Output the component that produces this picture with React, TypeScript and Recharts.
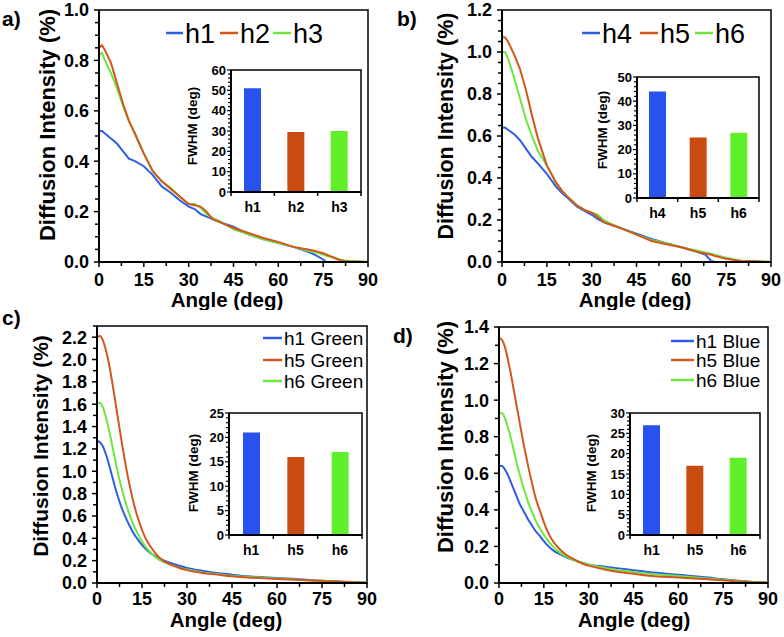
import React from 'react';
import { LineChart, Line, XAxis, YAxis, BarChart, Bar, Cell, ReferenceArea, Legend } from 'recharts';

const FONT = '"Liberation Sans", Arial, Helvetica, sans-serif';
const BLUE = '#2f5ce4';
const ORANGE = '#d4561e';
const GREEN = '#6ee641';
const BAR_COLORS = ['#2752ee', '#c94b0f', '#5ff02b'];

// ---------------- data ----------------
const X_MAJOR = [0, 15, 30, 45, 60, 75, 90];
const X_MINOR_STEP = 7.5;

// panel a
const A_ANGLES = [0, 1, 2, 4, 6, 8, 10, 12, 15, 18, 21, 24, 27, 30, 32, 34, 36, 38, 40, 45, 50, 55, 60, 65, 70, 72, 75, 76, 78, 80, 82, 84, 86, 90];
const A_H1 = [0.52, 0.52, 0.51, 0.49, 0.47, 0.44, 0.41, 0.40, 0.38, 0.345, 0.30, 0.275, 0.245, 0.22, 0.21, 0.19, 0.18, 0.17, 0.16, 0.14, 0.11, 0.09, 0.075, 0.06, 0.04, 0.03, 0.01, 0.0, 0.0, 0.0, 0.0, 0.0, 0.0, 0.0];
const A_H2 = [0.85, 0.86, 0.84, 0.79, 0.71, 0.63, 0.56, 0.51, 0.43, 0.36, 0.32, 0.29, 0.26, 0.23, 0.225, 0.22, 0.20, 0.17, 0.16, 0.135, 0.115, 0.095, 0.08, 0.06, 0.05, 0.045, 0.035, 0.03, 0.02, 0.01, 0.003, 0.002, 0.002, 0.0];
const A_H3 = [0.82, 0.83, 0.80, 0.75, 0.69, 0.62, 0.56, 0.51, 0.43, 0.36, 0.32, 0.295, 0.26, 0.23, 0.23, 0.215, 0.19, 0.175, 0.165, 0.13, 0.11, 0.09, 0.075, 0.06, 0.045, 0.04, 0.03, 0.025, 0.02, 0.012, 0.006, 0.004, 0.003, 0.0];
const A_Y_MAJOR = [0, 0.2, 0.4, 0.6, 0.8, 1.0];
const A_FWHM_CATS = ['h1', 'h2', 'h3'];
const A_FWHM = [51, 29.5, 30];
const A_FWHM_TICKS = [0, 10, 20, 30, 40, 50, 60];

// panel b
const B_ANGLES = [0, 1, 2, 4, 6, 8, 10, 12, 15, 18, 20, 22, 25, 28, 30, 32, 34, 36, 40, 45, 50, 55, 60, 65, 68, 70, 71, 75, 80, 85, 90];
const B_H4 = [0.64, 0.64, 0.63, 0.61, 0.58, 0.54, 0.50, 0.47, 0.42, 0.36, 0.33, 0.305, 0.265, 0.24, 0.225, 0.205, 0.19, 0.18, 0.16, 0.135, 0.11, 0.09, 0.07, 0.05, 0.035, 0.005, 0.0, 0.0, 0.0, 0.0, 0.0];
const B_H5 = [1.07, 1.07, 1.05, 0.99, 0.92, 0.82, 0.70, 0.59, 0.46, 0.38, 0.34, 0.31, 0.27, 0.245, 0.235, 0.215, 0.19, 0.18, 0.16, 0.13, 0.10, 0.085, 0.07, 0.05, 0.04, 0.035, 0.03, 0.015, 0.005, 0.003, 0.0];
const B_H6 = [1.0, 1.0, 0.97, 0.88, 0.78, 0.68, 0.60, 0.53, 0.46, 0.38, 0.34, 0.31, 0.27, 0.245, 0.235, 0.225, 0.20, 0.185, 0.16, 0.13, 0.105, 0.09, 0.07, 0.055, 0.045, 0.04, 0.035, 0.02, 0.005, 0.002, 0.0];
const B_Y_MAJOR = [0, 0.2, 0.4, 0.6, 0.8, 1.0, 1.2];
const B_FWHM_CATS = ['h4', 'h5', 'h6'];
const B_FWHM = [44, 25, 27];
const B_FWHM_TICKS = [0, 10, 20, 30, 40, 50];

// panel c
const C_ANGLES = [0, 1, 2, 3, 4, 5, 6, 7, 8, 9, 10, 11, 12, 14, 16, 18, 20, 22, 25, 28, 30, 35, 40, 45, 50, 60, 70, 75, 80, 85, 90];
const C_H1 = [1.27, 1.26, 1.22, 1.15, 1.06, 0.96, 0.86, 0.77, 0.69, 0.62, 0.56, 0.505, 0.455, 0.375, 0.31, 0.265, 0.23, 0.205, 0.175, 0.15, 0.135, 0.11, 0.09, 0.075, 0.06, 0.045, 0.03, 0.02, 0.015, 0.008, 0.003];
const C_H5 = [2.20, 2.21, 2.17, 2.08, 1.96, 1.81, 1.64, 1.47, 1.30, 1.14, 0.99, 0.86, 0.74, 0.55, 0.41, 0.32, 0.25, 0.20, 0.16, 0.13, 0.115, 0.09, 0.075, 0.06, 0.05, 0.035, 0.025, 0.02, 0.012, 0.006, 0.002];
const C_H6 = [1.61, 1.61, 1.57, 1.48, 1.37, 1.24, 1.11, 0.98, 0.87, 0.77, 0.68, 0.60, 0.53, 0.42, 0.33, 0.27, 0.22, 0.19, 0.16, 0.13, 0.12, 0.095, 0.08, 0.065, 0.055, 0.04, 0.025, 0.02, 0.012, 0.006, 0.002];
const C_Y_MAJOR = [0, 0.2, 0.4, 0.6, 0.8, 1.0, 1.2, 1.4, 1.6, 1.8, 2.0, 2.2];
const C_FWHM_CATS = ['h1', 'h5', 'h6'];
const C_FWHM = [21, 16, 17];
const C_FWHM_TICKS = [0, 5, 10, 15, 20, 25];

// panel d
const D_ANGLES = [0, 1, 2, 3, 4, 5, 6, 7, 8, 9, 10, 11, 12, 14, 16, 18, 20, 22, 25, 28, 30, 35, 40, 45, 50, 60, 70, 75, 80, 85, 90];
const D_H1 = [0.64, 0.64, 0.62, 0.59, 0.55, 0.51, 0.47, 0.43, 0.40, 0.37, 0.34, 0.315, 0.29, 0.25, 0.21, 0.18, 0.16, 0.145, 0.125, 0.11, 0.10, 0.09, 0.08, 0.07, 0.06, 0.045, 0.03, 0.02, 0.012, 0.006, 0.002];
const D_H5 = [1.34, 1.33, 1.29, 1.22, 1.14, 1.05, 0.96, 0.87, 0.78, 0.70, 0.62, 0.55, 0.48, 0.38, 0.29, 0.23, 0.19, 0.16, 0.13, 0.105, 0.095, 0.075, 0.06, 0.05, 0.04, 0.03, 0.02, 0.015, 0.008, 0.004, 0.002];
const D_H6 = [0.93, 0.93, 0.90, 0.85, 0.79, 0.72, 0.65, 0.59, 0.53, 0.48, 0.43, 0.39, 0.35, 0.29, 0.24, 0.20, 0.17, 0.15, 0.125, 0.11, 0.10, 0.085, 0.07, 0.06, 0.05, 0.038, 0.025, 0.018, 0.01, 0.005, 0.002];
const D_Y_MAJOR = [0, 0.2, 0.4, 0.6, 0.8, 1.0, 1.2, 1.4];
const D_FWHM_CATS = ['h1', 'h5', 'h6'];
const D_FWHM = [27, 17, 19];
const D_FWHM_TICKS = [0, 5, 10, 15, 20, 25, 30];

// ---------------- helpers ----------------
const minorTicks = (max: number, step: number) => {
  const out: number[] = [];
  const n = Math.round(max / step + 1e-9);
  for (let i = 0; i <= n; i++) out.push(Math.round(i * step * 10000) / 10000);
  return out;
};
const isMajor = (v: number, majors: number[]) => majors.some((m) => Math.abs(m - v) < 1e-6);
const zip = (xs: number[], ys: number[]) => xs.map((x, i) => ({ x, y: ys[i] }));

type Series = { name: string; color: string; angles: number[]; values: number[] };
type LegendItem = { label: string; color: string; lx1: number; lx2: number; tx: number; y: number };

type PanelProps = {
  left: number; top: number; width: number; height: number;
  mTop: number; mRight: number; yWidth: number; xHeight: number;
  yMax: number; yMajor: number[]; yMinor: number; yDecimals: number;
  series: Series[]; curve: 'linear' | 'monotone';
  legend: LegendItem[]; legendFont: number;
  yLabelPos: [number, number]; yLabelSize: number;
  xLabelPos: [number, number]; xTickDy: number;
};

const Panel = (p: PanelProps) => {
  const plotLeft = p.yWidth;
  const plotBottom = p.height - p.xHeight;
  const yTicks = minorTicks(p.yMax, p.yMinor);
  const xTicks = minorTicks(90, X_MINOR_STEP);
  const YTick = (t: any) => {
    const v = t.payload.value;
    const maj = isMajor(v, p.yMajor);
    return (
      <g>
        <line x1={plotLeft} x2={plotLeft - (maj ? 5 : 4)} y1={t.y} y2={t.y} stroke="#000" strokeWidth={1.5} />
        {maj && (
          <text x={plotLeft - 10} y={t.y} dy="0.36em" textAnchor="end" fontFamily={FONT} fontWeight="bold" fontSize={18} fill="#000">
            {v.toFixed(p.yDecimals)}
          </text>
        )}
      </g>
    );
  };
  const XTick = (t: any) => {
    const v = t.payload.value;
    const maj = isMajor(v, X_MAJOR);
    return (
      <g>
        <line x1={t.x} x2={t.x} y1={plotBottom} y2={plotBottom + (maj ? 5 : 4)} stroke="#000" strokeWidth={1.5} />
        {maj && (
          <text x={t.x} y={plotBottom + p.xTickDy} textAnchor="middle" fontFamily={FONT} fontWeight="bold" fontSize={18} fill="#000">
            {String(v)}
          </text>
        )}
      </g>
    );
  };
  const legendContent = () => (
    <svg width={p.width} height={100} style={{ display: 'block', overflow: 'visible' }}>
      {p.legend.map((it) => (
        <g key={it.label}>
          <line x1={it.lx1} x2={it.lx2} y1={it.y} y2={it.y} stroke={it.color} strokeWidth={2.5} />
          <text x={it.tx} y={it.y} dy="0.36em" fontFamily={FONT} fontSize={p.legendFont} fill="#000">{it.label}</text>
        </g>
      ))}
    </svg>
  );
  const yLabel = () => (
    <text x={p.yLabelPos[0]} y={p.yLabelPos[1]} transform={`rotate(-90 ${p.yLabelPos[0]} ${p.yLabelPos[1]})`} dy="0.36em" textAnchor="middle" fontFamily={FONT} fontWeight="bold" fontSize={p.yLabelSize} fill="#000">
      Diffusion Intensity (%)
    </text>
  );
  const xLabel = () => (
    <text x={p.xLabelPos[0]} y={p.xLabelPos[1]} textAnchor="middle" fontFamily={FONT} fontWeight="bold" fontSize={20.5} fill="#000">
      Angle (deg)
    </text>
  );
  return (
    <div style={{ position: 'absolute', left: p.left, top: p.top }}>
      <LineChart width={p.width} height={p.height} margin={{ top: p.mTop, right: p.mRight, left: 0, bottom: 0 }}>
        <XAxis dataKey="x" type="number" domain={[0, 90]} ticks={xTicks} interval={0} allowDataOverflow
          height={p.xHeight} tickSize={0} tickMargin={0} tickLine={false} tick={XTick}
          axisLine={{ stroke: '#000', strokeWidth: 2 }} label={{ content: xLabel }} />
        <YAxis type="number" domain={[0, p.yMax]} ticks={yTicks} interval={0} allowDataOverflow
          width={p.yWidth} tickSize={0} tickMargin={0} tickLine={false} tick={YTick}
          axisLine={{ stroke: '#000', strokeWidth: 2 }} label={{ content: yLabel }} />
        <ReferenceArea y1={0} y2={p.yMax} fill="none" stroke="#000" strokeWidth={1.5} ifOverflow="visible" />
        {p.series.map((s) => (
          <Line key={s.name} data={zip(s.angles, s.values)} dataKey="y" type={p.curve} stroke={s.color}
            strokeWidth={2} dot={false} activeDot={false} isAnimationActive={false} />
        ))}
        <Legend layout="horizontal" verticalAlign="middle" align="center"
          wrapperStyle={{ left: 0, top: 0, width: p.width, height: 100, pointerEvents: 'none' }} content={legendContent} />
      </LineChart>
    </div>
  );
};

type InsetProps = {
  left: number; top: number; plotW: number; plotH: number;
  cats: string[]; values: number[]; majors: number[]; minor: number;
  labelPos: [number, number];
};

const Inset = (p: InsetProps) => {
  const yW = 60, mTop = 6, mRight = 6, xH = 28;
  const width = yW + p.plotW + mRight;
  const height = mTop + p.plotH + xH;
  const yMax = p.majors[p.majors.length - 1];
  const yTicks = minorTicks(yMax, p.minor);
  const bw = p.plotW / p.cats.length;
  const data = p.cats.map((c, i) => ({ cat: c, v: p.values[i] }));
  const plotBottom = mTop + p.plotH;
  const YTick = (t: any) => {
    const v = t.payload.value;
    const maj = isMajor(v, p.majors);
    return (
      <g>
        <line x1={yW} x2={yW - (maj ? 4 : 3)} y1={t.y} y2={t.y} stroke="#000" strokeWidth={1.2} />
        {maj && (
          <text x={yW - 5} y={t.y} dy="0.36em" textAnchor="end" fontFamily={FONT} fontWeight="bold" fontSize={13} fill="#000">{String(v)}</text>
        )}
      </g>
    );
  };
  const XTick = (t: any) => (
    <g>
      <line x1={t.x - bw / 2} x2={t.x - bw / 2} y1={plotBottom} y2={plotBottom + 4} stroke="#000" strokeWidth={1.5} />
      {t.index === p.cats.length - 1 && (
        <line x1={t.x + bw / 2} x2={t.x + bw / 2} y1={plotBottom} y2={plotBottom + 4} stroke="#000" strokeWidth={1.5} />
      )}
      <text x={t.x} y={plotBottom + 20} textAnchor="middle" fontFamily={FONT} fontWeight="bold" fontSize={14} fill="#000">{t.payload.value}</text>
    </g>
  );
  const yLabel = () => (
    <text x={p.labelPos[0]} y={p.labelPos[1]} transform={`rotate(-90 ${p.labelPos[0]} ${p.labelPos[1]})`} dy="0.36em" textAnchor="middle" fontFamily={FONT} fontWeight="bold" fontSize={13.5} fill="#000">
      FWHM (deg)
    </text>
  );
  return (
    <div style={{ position: 'absolute', left: p.left, top: p.top }}>
      <BarChart width={width} height={height} data={data} margin={{ top: mTop, right: mRight, left: 0, bottom: 0 }}>
        <XAxis dataKey="cat" type="category" height={xH} tickSize={0} tickMargin={0} tickLine={false} tick={XTick} interval={0}
          axisLine={{ stroke: '#000', strokeWidth: 2 }} />
        <YAxis type="number" domain={[0, yMax]} ticks={yTicks} interval={0} width={yW} tickSize={0} tickMargin={0}
          tickLine={false} tick={YTick} axisLine={{ stroke: '#000', strokeWidth: 2 }} label={{ content: yLabel }} />
        <ReferenceArea y1={0} y2={yMax} fill="none" stroke="#000" strokeWidth={1.5} ifOverflow="visible" />
        <Bar dataKey="v" barSize={17} isAnimationActive={false}>
          {data.map((d, i) => <Cell key={d.cat} fill={BAR_COLORS[i]} />)}
        </Bar>
      </BarChart>
    </div>
  );
};

const PanelLetter = ({ x, y, t }: { x: number; y: number; t: string }) => (
  <text x={x} y={y} fontFamily={FONT} fontWeight="bold" fontSize={21} fill="#000">{t}</text>
);

export default function App() {
  return (
    <div style={{ position: 'absolute', left: 0, top: 0, width: 784, height: 637, background: '#fff', overflow: 'hidden' }}>
      <Panel left={0} top={0} width={392} height={310} mTop={10} mRight={24} yWidth={99} xHeight={48}
        yMax={1.0} yMajor={A_Y_MAJOR} yMinor={0.05} yDecimals={1} curve="linear"
        series={[
          { name: 'h1', color: BLUE, angles: A_ANGLES, values: A_H1 },
          { name: 'h3', color: GREEN, angles: A_ANGLES, values: A_H3 },
          { name: 'h2', color: ORANGE, angles: A_ANGLES, values: A_H2 },
        ]}
        legendFont={27}
        legend={[
          { label: 'h1', color: BLUE, lx1: 166, lx2: 183, tx: 185, y: 33 },
          { label: 'h2', color: ORANGE, lx1: 220, lx2: 238, tx: 240, y: 33 },
          { label: 'h3', color: GREEN, lx1: 273, lx2: 291, tx: 293, y: 33 },
        ]}
        yLabelPos={[47, 125]} yLabelSize={22} xLabelPos={[227, 307]} xTickDy={24} />
      <Panel left={392} top={0} width={392} height={310} mTop={10} mRight={13} yWidth={110} xHeight={48}
        yMax={1.2} yMajor={B_Y_MAJOR} yMinor={0.05} yDecimals={1} curve="linear"
        series={[
          { name: 'h4', color: BLUE, angles: B_ANGLES, values: B_H4 },
          { name: 'h6', color: GREEN, angles: B_ANGLES, values: B_H6 },
          { name: 'h5', color: ORANGE, angles: B_ANGLES, values: B_H5 },
        ]}
        legendFont={27}
        legend={[
          { label: 'h4', color: BLUE, lx1: 190, lx2: 208, tx: 210, y: 33 },
          { label: 'h5', color: ORANGE, lx1: 248, lx2: 266, tx: 268, y: 33 },
          { label: 'h6', color: GREEN, lx1: 303, lx2: 321, tx: 323, y: 33 },
        ]}
        yLabelPos={[53, 126]} yLabelSize={21.5} xLabelPos={[243, 307]} xTickDy={24} />
      <Panel left={0} top={310} width={392} height={327} mTop={16} mRight={25} yWidth={97} xHeight={54}
        yMax={2.3} yMajor={C_Y_MAJOR} yMinor={0.1} yDecimals={1} curve="monotone"
        series={[
          { name: 'h1 Green', color: BLUE, angles: C_ANGLES, values: C_H1 },
          { name: 'h6 Green', color: GREEN, angles: C_ANGLES, values: C_H6 },
          { name: 'h5 Green', color: ORANGE, angles: C_ANGLES, values: C_H5 },
        ]}
        legendFont={19}
        legend={[
          { label: 'h1 Green', color: BLUE, lx1: 263, lx2: 282, tx: 284, y: 28 },
          { label: 'h5 Green', color: ORANGE, lx1: 263, lx2: 282, tx: 284, y: 50 },
          { label: 'h6 Green', color: GREEN, lx1: 263, lx2: 282, tx: 284, y: 71 },
        ]}
        yLabelPos={[40, 136]} yLabelSize={21} xLabelPos={[226, 317]} xTickDy={22} />
      <Panel left={392} top={310} width={392} height={327} mTop={17} mRight={16} yWidth={107} xHeight={54}
        yMax={1.4} yMajor={D_Y_MAJOR} yMinor={0.1} yDecimals={1} curve="monotone"
        series={[
          { name: 'h1 Blue', color: BLUE, angles: D_ANGLES, values: D_H1 },
          { name: 'h6 Blue', color: GREEN, angles: D_ANGLES, values: D_H6 },
          { name: 'h5 Blue', color: ORANGE, angles: D_ANGLES, values: D_H5 },
        ]}
        legendFont={19}
        legend={[
          { label: 'h1 Blue', color: BLUE, lx1: 279, lx2: 302, tx: 304, y: 31 },
          { label: 'h5 Blue', color: ORANGE, lx1: 279, lx2: 302, tx: 304, y: 50 },
          { label: 'h6 Blue', color: GREEN, lx1: 279, lx2: 302, tx: 304, y: 70 },
        ]}
        yLabelPos={[53, 127]} yLabelSize={22} xLabelPos={[242, 317]} xTickDy={22} />

      <Inset left={171} top={64} plotW={130} plotH={122} cats={A_FWHM_CATS} values={A_FWHM} majors={A_FWHM_TICKS} minor={2} labelPos={[21, 62]} />
      <Inset left={577} top={71} plotW={122} plotH={121} cats={B_FWHM_CATS} values={B_FWHM} majors={B_FWHM_TICKS} minor={2} labelPos={[25, 59]} />
      <Inset left={169} top={407} plotW={133} plotH={122} cats={C_FWHM_CATS} values={C_FWHM} majors={C_FWHM_TICKS} minor={1} labelPos={[24, 66]} />
      <Inset left={570} top={407} plotW={130} plotH={122} cats={D_FWHM_CATS} values={D_FWHM} majors={D_FWHM_TICKS} minor={1} labelPos={[21, 66]} />

      <svg width={784} height={637} style={{ position: 'absolute', left: 0, top: 0, pointerEvents: 'none' }}>
        <PanelLetter x={2} y={26} t="a)" />
        <PanelLetter x={397} y={26} t="b)" />
        <PanelLetter x={2} y={325} t="c)" />
        <PanelLetter x={393} y={343} t="d)" />
      </svg>
    </div>
  );
}
